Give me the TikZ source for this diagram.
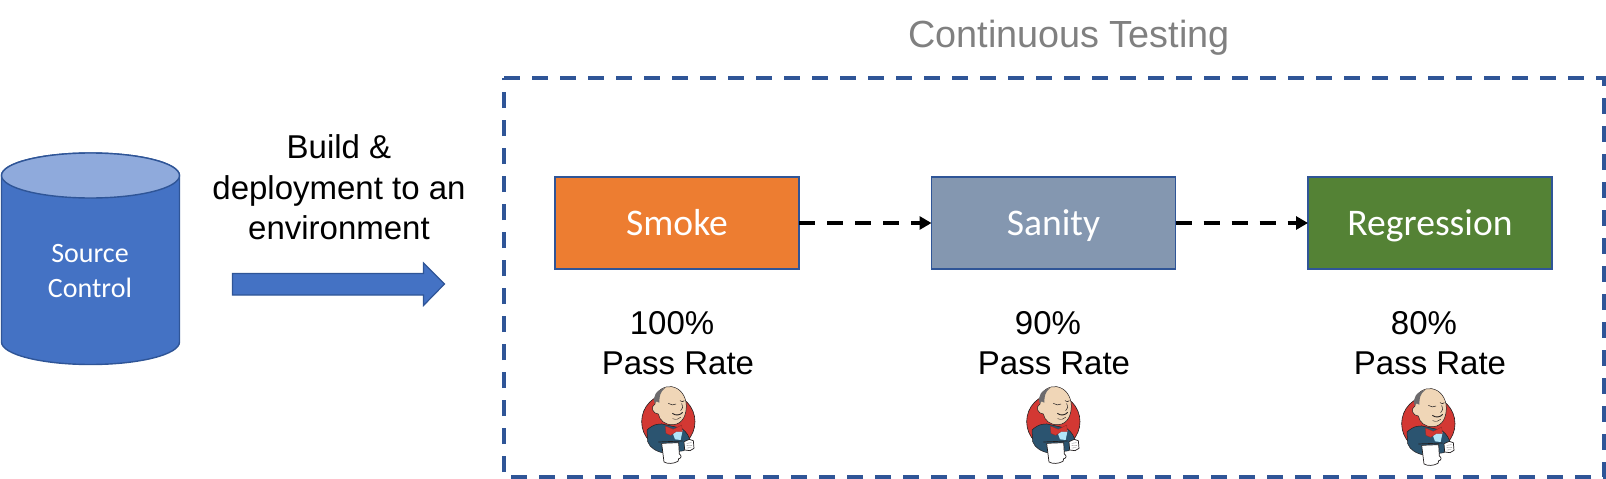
\documentclass[tikz,border=0pt]{standalone}
\usepackage{fontspec}
\setmainfont{Liberation Sans}
\newfontfamily\boxfont{Carlito}
\usetikzlibrary{arrows.meta}
\definecolor{edgeblue}{HTML}{2F5597}
\definecolor{cylblue}{HTML}{4472C4}
\definecolor{cyltop}{HTML}{8FAADC}
\definecolor{smokeor}{HTML}{ED7D31}
\definecolor{sanityg}{HTML}{8497B0}
\definecolor{reggreen}{HTML}{548235}
\definecolor{jred}{HTML}{D33833}
\definecolor{jskin}{HTML}{F0D6B7}
\definecolor{jnavy}{HTML}{2B5470}
\definecolor{jgrey}{HTML}{6D6B6D}
\definecolor{jink}{HTML}{231F20}
\tikzset{
  stagebox/.style={draw=edgeblue,line width=1.6pt,minimum width=244pt,minimum height=92pt,inner sep=0pt,outer sep=0pt,text=white,text height=25pt,text depth=0pt,font=\boxfont\fontsize{37.6}{44}\selectfont},
  dashconn/.style={draw=black,line width=3.6pt,dash pattern=on 16pt off 12pt,-{Triangle[length=12pt,width=13pt,sep=0pt]}},
  bodytext/.style={align=center,inner sep=0pt,font=\fontsize{33}{40.5}\selectfont},
  jenkins/.pic={
    \begin{scope}[x=0.3333pt,y=-0.3333pt,line join=round]
      \fill[jred,draw=jink,line width=0.6pt] (175,125) circle [x radius=80,y radius=82];
      % jacket
      \fill[jnavy,draw=jink,line width=0.5pt] (111,150) .. controls (130,132) and (150,128) .. (170,135)
        -- (215,145) .. controls (232,158) and (238,170) .. (240,185)
        -- (222,212) -- (165,220) .. controls (140,215) and (120,205) .. (113,185) -- cycle;
      % shirt
      \fill[white!70!cyan] (185,150) -- (218,150) -- (212,180) -- (195,178) -- cycle;
      % head
      \fill[jskin,draw=jink,line width=0.5pt] (135,55) .. controls (140,30) and (165,17) .. (185,20)
        .. controls (212,24) and (229,50) .. (229,78)
        .. controls (229,105) and (218,132) .. (190,134)
        .. controls (165,136) and (148,120) .. (145,102)
        .. controls (128,102) and (120,80) .. (135,72) -- cycle;
      % hair
      \fill[jgrey] (134,70) .. controls (126,50) and (140,28) .. (165,24)
        .. controls (150,35) and (148,50) .. (148,68)
        .. controls (142,62) and (138,64) .. (134,70) -- cycle;
      % face
      \draw[jink,line width=0.5pt] (175,70) .. controls (182,76) and (192,76) .. (198,72);
      \draw[jink,line width=0.5pt] (210,62) .. controls (215,66) and (220,66) .. (223,62);
      \draw[jink,line width=0.5pt] (215,70) .. controls (218,80) and (220,88) .. (212,92);
      \draw[jink,line width=0.9pt] (187,100) .. controls (198,108) and (210,106) .. (218,97);
      \draw[jink,line width=0.4pt] (188,116) .. controls (198,120) and (206,118) .. (212,112);
      % bow tie
      \fill[jred,draw=jred!70!black,line width=0.3pt] (166,138) -- (190,148) -- (215,135) -- (217,155)
        -- (198,155) -- (182,166) -- (168,160) -- cycle;
      % arm line
      \draw[jink,line width=0.7pt] (145,186) -- (218,183);
      % mug
      \fill[white,draw=jink,line width=0.7pt] (155,190) -- (206,188) -- (208,222)
        .. controls (216,226) and (214,236) .. (206,236)
        -- (204,244) .. controls (190,252) and (172,252) .. (162,246) -- cycle;
      % glove
      \fill[white,draw=jink,line width=0.7pt] (222,185) -- (238,178) -- (250,182) -- (252,205)
        -- (240,212) -- (224,210) -- cycle;
      \draw[jink!60,line width=0.3pt] (230,190) -- (245,188) (230,197) -- (246,196) (230,204) -- (244,203);
    \end{scope}
  }
}
\begin{document}
\begin{tikzpicture}[x=1pt,y=-1pt]
\useasboundingbox (0,0) rectangle (1606,479);
% source control cylinder
\path[fill=cylblue,draw=edgeblue,line width=1.4pt] (1.5,175.5) -- (1.5,342) arc[start angle=180,end angle=360,x radius=89,y radius=-22.5] -- (179.5,175.5) arc[start angle=0,end angle=180,x radius=89,y radius=-22.5] -- cycle;
\path[fill=cyltop,draw=edgeblue,line width=1.4pt] (90.5,175.5) ellipse [x radius=89,y radius=22.5];
\node[text=white,align=center,inner sep=0pt,font=\boxfont\fontsize{28}{35}\selectfont] (source) at (90,271) {Source\\Control};
% build label and block arrow
\node[bodytext] (build) at (339,187.5) {Build \&\\deployment to an\\environment};
\path[fill=cylblue,draw=edgeblue,line width=1.2pt] (232.5,273.5) -- (423.5,273.5) -- (423.5,263) -- (444.5,284) -- (423.5,305.5) -- (423.5,295) -- (232.5,295) -- cycle;
% continuous testing frame
\node[text=black!50,inner sep=0pt,font=\fontsize{37.8}{44}\selectfont] (title) at (1069,38) {Continuous Testing};
\draw[edgeblue,line width=3.6pt,dash pattern=on 16pt off 12pt] (504,78) -- (1604,78) -- (1604,477) -- (504,477) -- cycle;
% stage boxes
\node[stagebox,fill=smokeor] (smoke) at (677,223) {Smoke};
\node[stagebox,fill=sanityg] (sanity) at (1053.5,223) {Sanity};
\node[stagebox,fill=reggreen] (regression) at (1430,223) {Regression};
\draw[dashconn] (smoke) -- (sanity);
\draw[dashconn] (sanity) -- (regression);
% pass rates
\node[bodytext] (passa) at (678,343) {100\%\hspace*{12pt}\\Pass Rate};
\node[bodytext] (passb) at (1054,343) {90\%\hspace*{12pt}\\Pass Rate};
\node[bodytext] (passc) at (1430,343) {80\%\hspace*{12pt}\\Pass Rate};
% Jenkins icons
\pic at (610,380) {jenkins};
\pic at (995,380) {jenkins};
\pic at (1370,382) {jenkins};
\end{tikzpicture}
\end{document}
